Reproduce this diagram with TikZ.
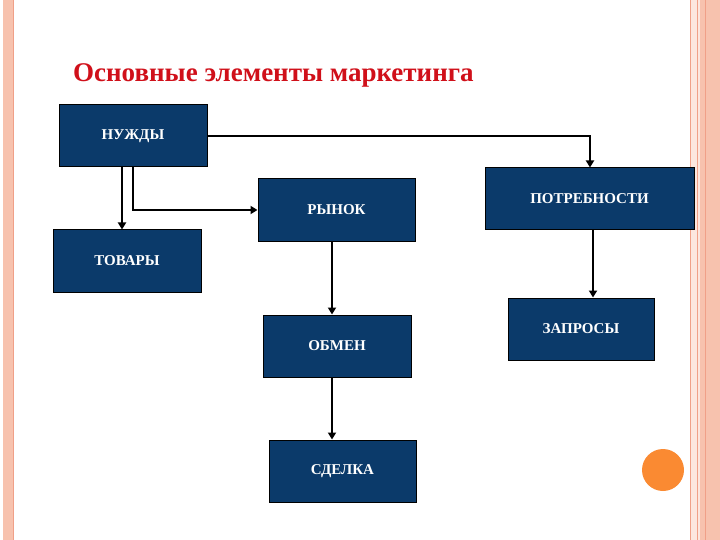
\documentclass[tikz,border=0pt]{standalone}
\usepackage{fontspec}
\setmainfont{Liberation Serif}
\usetikzlibrary{arrows.meta}
\definecolor{navy}{HTML}{0B3A6A}
\definecolor{salmon}{HTML}{F7C2AE}
\definecolor{salmonline}{HTML}{F0A088}
\definecolor{orng}{HTML}{FA8A32}
\definecolor{ttl}{HTML}{D0101A}
\begin{document}
\begin{tikzpicture}[x=1pt,y=-1pt,
  box/.style={draw=black,line width=1pt,fill=navy,text=white,font=\bfseries\fontsize{15}{17}\selectfont,inner sep=0pt},
  conn/.style={line width=2.5pt,-{Triangle[length=7pt,width=8pt]}}]
\useasboundingbox (0,0) rectangle (720,540);
% borders
\fill[salmon] (3,0) rectangle (13,540);
\draw[salmonline,line width=0.6pt] (13.5,0) -- (13.5,540);
\fill[salmon!40] (690,0) rectangle (720,540);
\fill[salmon] (700,0) rectangle (720,540);
\draw[salmonline,line width=0.8pt] (690,0) -- (690,540) (697,0) -- (697,540) (705,0) -- (705,540);
% title
\node[anchor=west,text=ttl,font=\bfseries\fontsize{27}{30}\selectfont,inner sep=0pt] (title) at (73,75) {Основные элементы маркетинга};
% boxes
\node[box,minimum width=148pt,minimum height=62pt] (nuzh) at (133,136) {НУЖДЫ};
\node[box,minimum width=148pt,minimum height=62pt] (tov) at (127,261) {ТОВАРЫ};
\node[box,minimum width=157pt,minimum height=62pt] (ryn) at (336.5,210) {РЫНОК};
\node[box,minimum width=209pt,minimum height=62pt] (potr) at (589.5,199) {ПОТРЕБНОСТИ};
\node[box,minimum width=148pt,minimum height=62pt] (obm) at (337,346) {ОБМЕН};
\node[box,minimum width=146pt,minimum height=62pt] (zapr) at (581,329) {ЗАПРОСЫ};
\node[box,minimum width=147pt,minimum height=62pt] (sdel) at (342.5,471) {СДЕЛКА};
% connectors
\draw[conn] (nuzh.south -| 122,0) -- (tov.north -| 122,0);
\draw[conn] (nuzh.south -| 133,0) |- (ryn.west);
\draw[conn] (nuzh.east) -| (potr.north -| 590,0);
\draw[conn] (ryn.south -| 332,0) -- (obm.north -| 332,0);
\draw[conn] (obm.south -| 332,0) -- (sdel.north -| 332,0);
\draw[conn] (potr.south -| 593,0) -- (zapr.north -| 593,0);
% circle
\fill[orng] (663,470) circle (21);
\end{tikzpicture}
\end{document}
